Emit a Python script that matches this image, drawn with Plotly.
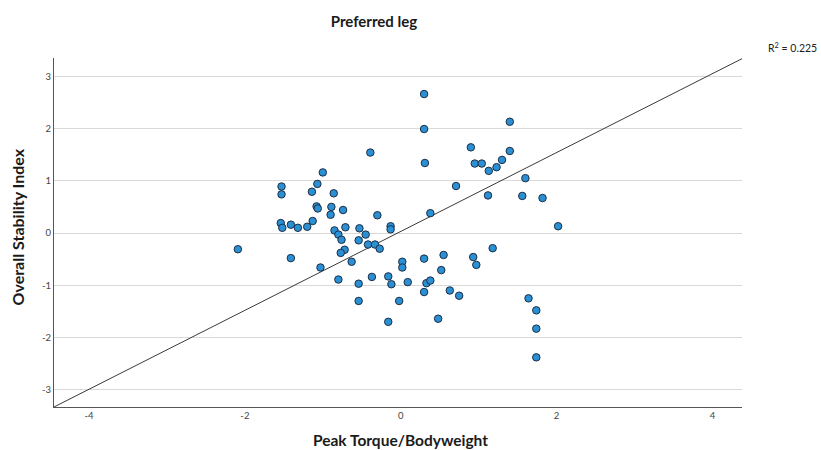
import plotly.graph_objects as go

# Data
peak_torque_bw = [
    -0.39, -1.00, -1.53, -1.07, -1.53, -1.14, -0.86, -1.08, -1.065, -0.89,
    -0.74, -0.90, -0.30, -1.13, -1.54, -1.52, -1.41, -1.32, -1.20, -0.13,
    -0.13, -0.85, -0.80, -0.71, -0.53, -0.45, -0.54, -0.76, -0.42, -0.33,
    -0.27, -2.09, -0.72, -0.77, -1.41, -0.63, -1.03, 0.02, 0.02, -0.80,
    -0.54, -0.37, -0.16, -0.12, 0.09, 0.30, 0.55, 0.52, 0.33, 0.38,
    0.30, 0.63, 0.75, -0.54, -0.02, -0.16, 0.48, 0.30, 1.40, 0.30,
    0.90, 1.40, 0.31, 0.95, 1.04, 1.30, 1.23, 1.13, 1.60, 0.71,
    1.12, 1.56, 1.82, 0.38, 2.02, 1.18, 0.93, 0.97, 1.64, 1.74,
    1.74, 1.74,
]
overall_stability_index = [
    1.54, 1.16, 0.89, 0.94, 0.74, 0.79, 0.76, 0.51, 0.47, 0.50,
    0.44, 0.35, 0.34, 0.23, 0.19, 0.10, 0.16, 0.10, 0.12, 0.13,
    0.07, 0.05, -0.03, 0.11, 0.09, -0.03, -0.14, -0.13, -0.22, -0.22,
    -0.30, -0.31, -0.32, -0.38, -0.48, -0.55, -0.66, -0.55, -0.66, -0.89,
    -0.97, -0.84, -0.83, -0.98, -0.94, -0.49, -0.42, -0.71, -0.96, -0.91,
    -1.13, -1.10, -1.20, -1.30, -1.30, -1.70, -1.64, 2.66, 2.13, 1.99,
    1.64, 1.57, 1.34, 1.33, 1.33, 1.40, 1.26, 1.19, 1.05, 0.90,
    0.72, 0.71, 0.67, 0.38, 0.13, -0.29, -0.46, -0.61, -1.25, -1.48,
    -1.83, -2.38,
]

fit_slope = 0.755
fit_intercept = 0.03
r_squared = 0.225

x_range = [-4.45, 4.38]
y_range = [-3.33, 3.35]
x_ticks = [-4, -2, 0, 2, 4]
y_ticks = [-3, -2, -1, 0, 1, 2, 3]

fit_x = x_range
fit_y = [fit_intercept + fit_slope * v for v in fit_x]

fig = go.Figure()
fig.add_trace(go.Scatter(
    x=fit_x, y=fit_y, mode="lines",
    line=dict(color="#3a3a3a", width=1),
    hoverinfo="skip", showlegend=False,
))
fig.add_trace(go.Scatter(
    x=peak_torque_bw, y=overall_stability_index, mode="markers",
    marker=dict(size=7.5, color="#2b8fd3",
                line=dict(color="#1c2f45", width=1)),
    showlegend=False,
))

title_font = dict(family="Lato, Open Sans, sans-serif", color="#1a1a1a")

fig.update_layout(
    width=821, height=450,
    margin=dict(l=54, r=79, t=58, b=43, autoexpand=False),
    paper_bgcolor="white", plot_bgcolor="white",
    font=dict(family="Lato, Open Sans, sans-serif", color="#222"),
    title=dict(text="<b>Preferred leg</b>", x=0.4555, xref="container",
               y=0.951, yref="container", xanchor="center", yanchor="middle",
               font=dict(size=15, **title_font)),
    xaxis=dict(
        range=x_range, tickvals=x_ticks, ticktext=[str(t) for t in x_ticks],
        showgrid=False, zeroline=False, showline=True, linecolor="#555",
        linewidth=1, ticks="", tickfont=dict(size=9.5, color="#444"),
        automargin=False,
    ),
    yaxis=dict(
        range=y_range, tickvals=y_ticks, ticktext=[str(t) for t in y_ticks],
        showgrid=True, gridcolor="#d9d9d9", gridwidth=1, zeroline=False,
        showline=True, linecolor="#555", linewidth=1, ticks="",
        tickfont=dict(size=9.5, color="#444"), automargin=False,
    ),
    annotations=[
        dict(text="<b>Peak Torque/Bodyweight</b>", xref="paper", yref="paper",
             x=0.504, y=-0.095, xanchor="center", yanchor="middle",
             showarrow=False, font=dict(size=15.5, **title_font)),
        dict(text="<b>Overall Stability Index</b>", xref="paper", yref="paper",
             x=-0.053, y=0.516, xanchor="center", yanchor="middle",
             textangle=-90, showarrow=False, font=dict(size=16, **title_font)),
        dict(text="R<sup>2</sup> = " + f"{r_squared:.3f}",
             xref="paper", yref="paper", x=1.112, y=1.03,
             xanchor="right", yanchor="middle", showarrow=False,
             font=dict(size=10.5, color="#222")),
    ],
)

# Remove the default 8px page margin so the 821x450 figure fills the window.
fig.write_html(
    "out.html",
    config={"displayModeBar": False},
    post_script="document.body.style.margin='0';"
                "document.documentElement.style.overflow='hidden';",
)
